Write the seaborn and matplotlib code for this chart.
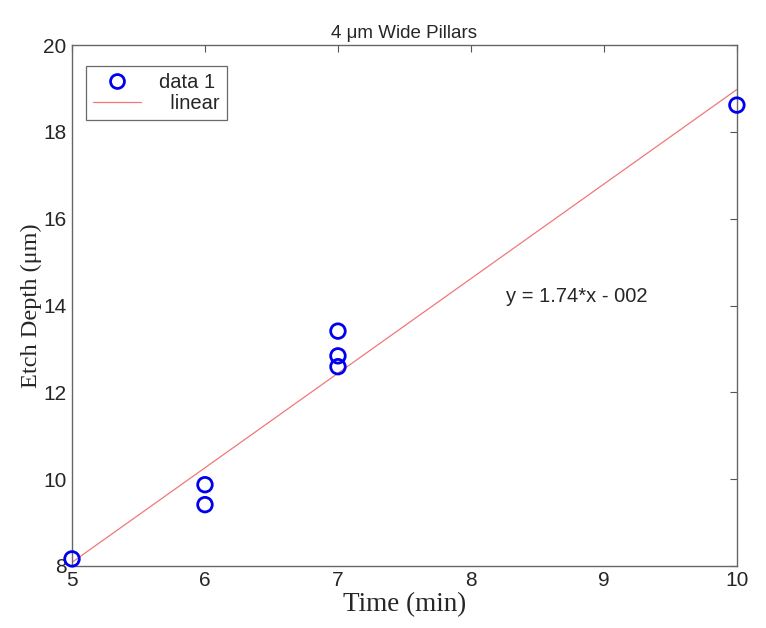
"""Etch depth vs. time for 4 um wide pillars, with a linear fit."""

import matplotlib

matplotlib.use("Agg")
import matplotlib.pyplot as plt
import numpy as np
import pandas as pd
import seaborn as sns

time_min = [5, 6, 6, 7, 7, 7, 10]
etch_depth_um = [8.16, 9.87, 9.41, 13.41, 12.84, 12.59, 18.62]
x_ticks = [5, 6, 7, 8, 9, 10]
y_ticks = [8, 10, 12, 14, 16, 18, 20]
fit_label = "y = 1.74*x - 002"

data = pd.DataFrame({"time": time_min, "depth": etch_depth_um})

sns.set_style("white")
plt.rcParams["font.family"] = ["Liberation Sans", "DejaVu Sans"]

fig = plt.figure(figsize=(7.66, 6.28), dpi=100)
ax = fig.add_axes([0.094, 0.099, 0.868, 0.829])

sns.regplot(data=data, x="time", y="depth", ci=None, truncate=True, scatter=False,
            line_kws={"color": "#f07878", "linewidth": 0.9}, ax=ax)
sns.scatterplot(data=data, x="time", y="depth", marker="o", s=110, facecolors="none",
                edgecolor="#0000ee", linewidth=2.0, ax=ax, zorder=3, clip_on=False)

ax.set_xlim(5, 10)
ax.set_ylim(8, 20)
ax.set_xticks(x_ticks)
ax.set_yticks(y_ticks)
ax.tick_params(direction="in", length=5, width=0.8, color="#555555", labelsize=15,
               top=True, right=True, pad=4)
for spine in ax.spines.values():
    spine.set_color("#666666")
    spine.set_linewidth(1.0)

ax.set_xlabel("Time (min)", family=["Liberation Serif", "DejaVu Serif"], fontsize=19.5, labelpad=1)
ax.set_ylabel("Etch Depth (\u03bcm)", family=["Liberation Serif", "DejaVu Serif"], fontsize=17.5, labelpad=1)
ax.set_title("4 \u03bcm Wide Pillars", fontsize=13.5, pad=5)

ax.text(8.26, 14.2, fit_label, fontsize=14.5, va="center", ha="left")

handles = [
    plt.Line2D([], [], marker="o", linestyle="none", markersize=10, markerfacecolor="none",
               markeredgecolor="#0000ee", markeredgewidth=2.0),
    plt.Line2D([], [], color="#f07878", linewidth=0.9),
]
leg = ax.legend(handles, ["data 1", "  linear"], loc="upper left", bbox_to_anchor=(0.021, 0.96),
                borderaxespad=0, fontsize=14.5, frameon=True, fancybox=False, edgecolor="#444444",
                handlelength=2.4, borderpad=0.35, labelspacing=0.1, handletextpad=0.9)
leg.get_frame().set_linewidth(0.9)

fig.savefig("out.png", dpi=100)
